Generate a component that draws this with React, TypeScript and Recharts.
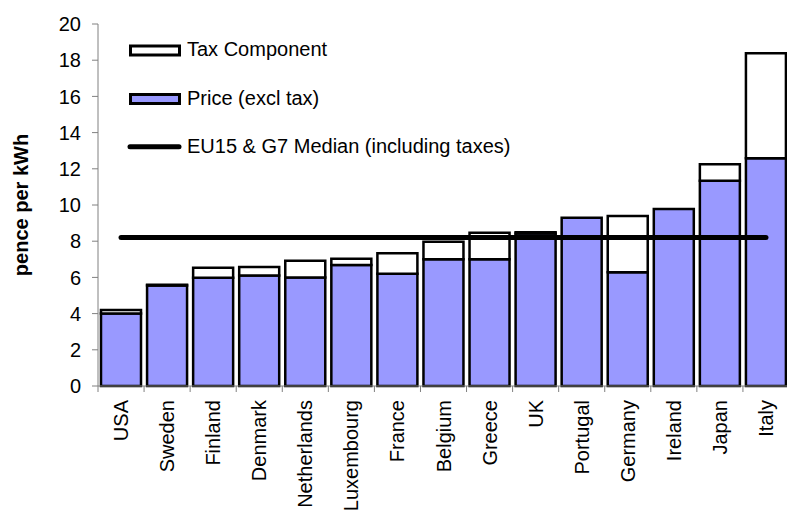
import { ComposedChart, Bar, Line, XAxis, YAxis, Legend } from "recharts";

// electricity prices, pence per kWh
const countries = [
  "USA",
  "Sweden",
  "Finland",
  "Denmark",
  "Netherlands",
  "Luxembourg",
  "France",
  "Belgium",
  "Greece",
  "UK",
  "Portugal",
  "Germany",
  "Ireland",
  "Japan",
  "Italy",
];
const priceExclTax = [4.0, 5.55, 5.98, 6.1, 6.0, 6.68, 6.2, 7.0, 7.0, 8.42, 9.3, 6.28, 9.78, 11.34, 12.58];
const taxComponent = [0.2, 0.05, 0.56, 0.47, 0.92, 0.35, 1.13, 0.97, 1.47, 0.08, 0, 3.11, 0, 0.91, 5.8];
const medianInclTax = [8.2, 8.2, 8.2, 8.2, 8.2, 8.2, 8.2, 8.2, 8.2, 8.2, 8.2, 8.2, 8.2, 8.2, 8.2];
const yTicks = [0, 2, 4, 6, 8, 10, 12, 14, 16, 18, 20];

const legendItems = [
  { name: "Tax Component", kind: "box", fill: "#ffffff" },
  { name: "Price (excl tax)", kind: "box", fill: "#9999FF" },
  { name: "EU15 & G7 Median (including taxes)", kind: "line", fill: "#000000" },
];

const data = countries.map((country, i) => ({
  country,
  price: priceExclTax[i],
  tax: taxComponent[i],
  median: medianInclTax[i],
}));

const FONT = "Arial, 'Liberation Sans', sans-serif";
const HALF_BAND = 23.03;

const CountryTick = (props: any) => {
  const { x, y, payload, index } = props;
  return (
    <g>
      <line x1={x - HALF_BAND} y1={y} x2={x - HALF_BAND} y2={y + 6} stroke="#808080" />
      {index === countries.length - 1 && (
        <line x1={x + HALF_BAND} y1={y} x2={x + HALF_BAND} y2={y + 6} stroke="#808080" />
      )}
      <text
        transform={`translate(${x + 7},${y + 14}) rotate(-90)`}
        textAnchor="end"
        fontSize={20}
        fontFamily={FONT}
        fill="#000"
      >
        {payload.value}
      </text>
    </g>
  );
};

const YLabel = () => (
  <text
    transform="translate(28,205) rotate(-90)"
    textAnchor="middle"
    fontSize={20}
    fontWeight="bold"
    fontFamily={FONT}
    fill="#000"
  >
    pence per kWh
  </text>
);

const LegendBox = () => {
  const rows = [50.5, 99, 146.7];
  const baselines = [56, 104.5, 153.3];
  return (
    <svg width={560} height={170}>
      {legendItems.map((item, i) => (
        <g key={item.name}>
          {item.kind === "box" ? (
            <rect
              x={130.5}
              y={rows[i] - 4.5}
              width={49}
              height={9}
              fill={item.fill}
              stroke="#000"
              strokeWidth={3}
            />
          ) : (
            <line
              x1={130}
              y1={rows[i]}
              x2={179}
              y2={rows[i]}
              stroke={item.fill}
              strokeWidth={5}
              strokeLinecap="round"
            />
          )}
          <text x={187} y={baselines[i]} fontSize={20} fontFamily={FONT} fill="#000">
            {item.name}
          </text>
        </g>
      ))}
    </svg>
  );
};

export default function App() {
  return (
    <div
      style={{
        position: "absolute",
        left: 0,
        top: 0,
        width: 787,
        height: 515,
        overflow: "hidden",
        background: "#fff",
      }}
    >
      <ComposedChart
        width={790}
        height={515}
        data={data}
        margin={{ top: 24, right: 1, bottom: 0, left: 0 }}
        barCategoryGap={3}
      >
        <XAxis
          dataKey="country"
          height={129}
          interval={0}
          stroke="#808080"
          tickLine={false}
          tickSize={0}
          tickMargin={0}
          tick={<CountryTick />}
        />
        <YAxis
          width={98}
          domain={[0, 20]}
          ticks={yTicks}
          interval={0}
          stroke="#808080"
          tickSize={6}
          tickMargin={11}
          tick={{ fill: "#000", fontSize: 20, fontFamily: FONT }}
          label={<YLabel />}
        />
        <Legend
          layout="horizontal"
          verticalAlign="middle"
          align="center"
          wrapperStyle={{ left: 0, top: 0, width: 560, height: 170 }}
          content={() => <LegendBox />}
        />
        <Bar
          dataKey="price"
          name="Price (excl tax)"
          stackId="p"
          fill="#9999FF"
          stroke="#000"
          strokeWidth={2.5}
          isAnimationActive={false}
        />
        <Bar
          dataKey="tax"
          name="Tax Component"
          stackId="p"
          fill="#ffffff"
          stroke="#000"
          strokeWidth={2.5}
          isAnimationActive={false}
        />
        <Line
          dataKey="median"
          name="EU15 & G7 Median (including taxes)"
          stroke="#000"
          strokeWidth={5}
          strokeLinecap="round"
          dot={false}
          activeDot={false}
          isAnimationActive={false}
        />
      </ComposedChart>
    </div>
  );
}
